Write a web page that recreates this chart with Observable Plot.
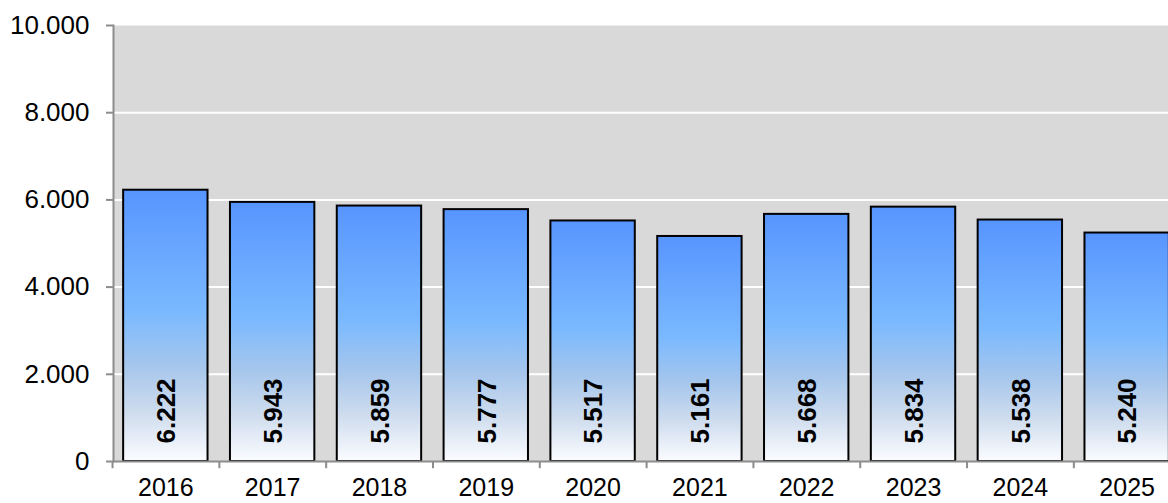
<!DOCTYPE html>
<html>
<head>
<meta charset="utf-8">
<script src="https://cdn.jsdelivr.net/npm/d3@7"></script>
<script src="https://cdn.jsdelivr.net/npm/@observablehq/plot@0.6"></script>
<style>
  html, body { margin: 0; padding: 0; background: #fff; overflow: hidden; }
  #chart { width: 1168px; height: 503px; overflow: hidden; }
  #chart svg { display: block; max-width: none !important; width: 1180px !important; height: 503px !important; }
</style>
</head>
<body>
<div id="chart"></div>
<script>
const years = ["2016","2017","2018","2019","2020","2021","2022","2023","2024","2025"];
const values = [6222, 5943, 5859, 5777, 5517, 5161, 5668, 5834, 5538, 5240];
const yTicks = [0, 2000, 4000, 6000, 8000, 10000];
const gridLines = [2000, 4000, 6000, 8000];

const data = years.map((y, i) => ({year: y, value: values[i]}));
const de = d3.formatLocale({decimal: ",", thousands: ".", grouping: [3], currency: ["", " €"]});
const fmt = de.format(",");

const W = 1180, H = 503;
const mL = 113, mR = 1, mT = 25, mB = 42;
const step = (W - mL - mR) / years.length;
const FONT = "'Liberation Sans', Arial, sans-serif";

const chart = Plot.plot({
  width: W,
  height: H,
  marginLeft: mL,
  marginRight: mR,
  marginTop: mT,
  marginBottom: mB,
  style: {fontFamily: FONT, background: "#fff", color: "#000", maxWidth: "none"},
  x: {domain: years, paddingInner: 0.21, paddingOuter: 0.095, round: false, label: null},
  y: {domain: [0, 10000], label: null},
  marks: [
    Plot.frame({fill: "#d9d9d9", stroke: "none"}),
    Plot.ruleY(gridLines, {stroke: "#ffffff", strokeWidth: 2}),
    Plot.barY(data, {x: "year", y: "value", fill: "url(#barGrad)", stroke: "#000", strokeWidth: 2}),
    Plot.text(data, {
      x: "year", y: 0, text: d => fmt(d.value), rotate: -90,
      textAnchor: "start", lineAnchor: "middle", dy: -18, dx: 1,
      fontWeight: "bold", fontSize: 26, fill: "#000"
    }),
    Plot.frame({anchor: "left", stroke: "#8c8c8c", strokeWidth: 2}),
    Plot.frame({anchor: "bottom", stroke: "#8c8c8c", strokeWidth: 2}),
    Plot.ruleX(years, {x: d => d, dx: -step / 2, y1: 0, y2: -165, stroke: "#8c8c8c", strokeWidth: 2}),
    Plot.axisY({
      ticks: yTicks, tickSize: 7, tickPadding: 17, stroke: "#8c8c8c", strokeWidth: 2,
      tickFormat: d => fmt(d), fontSize: 26, fill: "#000", label: null
    }),
    Plot.axisX({tickSize: 0, tickPadding: 17, fontSize: 25, fill: "#000", label: null})
  ]
});

const svgNS = "http://www.w3.org/2000/svg";
const defs = document.createElementNS(svgNS, "defs");
defs.innerHTML = `
  <linearGradient id="barGrad" x1="0" y1="0" x2="0" y2="1">
    <stop offset="0" stop-color="#5795ff"/>
    <stop offset="0.45" stop-color="#7ab9ff"/>
    <stop offset="0.65" stop-color="#a6c6ec"/>
    <stop offset="0.82" stop-color="#cedcee"/>
    <stop offset="1" stop-color="#fbfcff"/>
  </linearGradient>`;
chart.insertBefore(defs, chart.firstChild);
document.getElementById("chart").appendChild(chart);
</script>
</body>
</html>
